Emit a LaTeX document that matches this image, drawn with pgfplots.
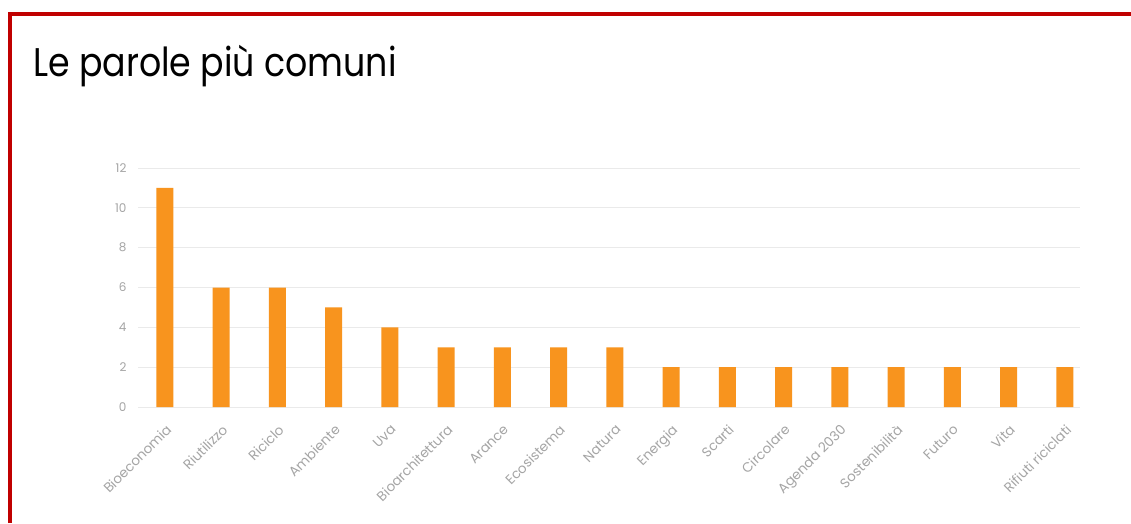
\documentclass[border=0pt]{standalone}
\usepackage{fontspec}
\setmainfont{Poppins}
\usepackage{pgfplots}
\pgfplotsset{compat=1.18}
\definecolor{barorange}{RGB}{248,148,30}
\definecolor{framered}{RGB}{192,0,0}
\definecolor{ticktext}{RGB}{165,165,165}
\definecolor{gridc}{RGB}{234,234,234}
\begin{document}
\begin{tikzpicture}[x=1pt,y=1pt]
\useasboundingbox (0,0) rectangle (1131,523);
\fill[white] (0,0) rectangle (1131,523);
\draw[framered, line width=4pt] (9.5,0) -- (9.5,509) -- (1131,509);
\node[anchor=base west, inner sep=0pt, font=\fontsize{40}{44}\selectfont] at (33,446) {\scalebox{0.87}[1]{Le parole più comuni}};
\begin{axis}[
  at={(138pt,116pt)}, anchor=south west,
  scale only axis, width=942pt, height=239pt,
  xmin=-0.48, xmax=16.27, ymin=0, ymax=12,
  ytick={0,2,...,12},
  xtick={0,...,16},
  xticklabels={Bioeconomia,Riutilizzo,Riciclo,Ambiente,Uva,Bioarchitettura,Arance,Ecosistema,Natura,Energia,Scarti,Circolare,Agenda 2030,Sostenibilità,Futuro,Vita,Rifiuti riciclati},
  x tick label style={rotate=45, anchor=north east, font=\fontsize{13.5}{14}\selectfont, text=ticktext, inner sep=1pt},
  y tick label style={font=\fontsize{12}{13}\selectfont, text=ticktext},
  /pgf/number format/assume math mode=true,
  axis line style={draw=none},
  major tick length=0pt,
  ymajorgrids, grid style={gridc, line width=0.8pt},
  yticklabel style={xshift=-8pt},
  xticklabel shift=15pt,
]
\addplot[ybar, bar width=17pt, fill=barorange, draw=none] coordinates {
(0,11) (1,6) (2,6) (3,5) (4,4) (5,3) (6,3) (7,3) (8,3) (9,2) (10,2) (11,2) (12,2) (13,2) (14,2) (15,2) (16,2)
};
\end{axis}
\end{tikzpicture}
\end{document}
